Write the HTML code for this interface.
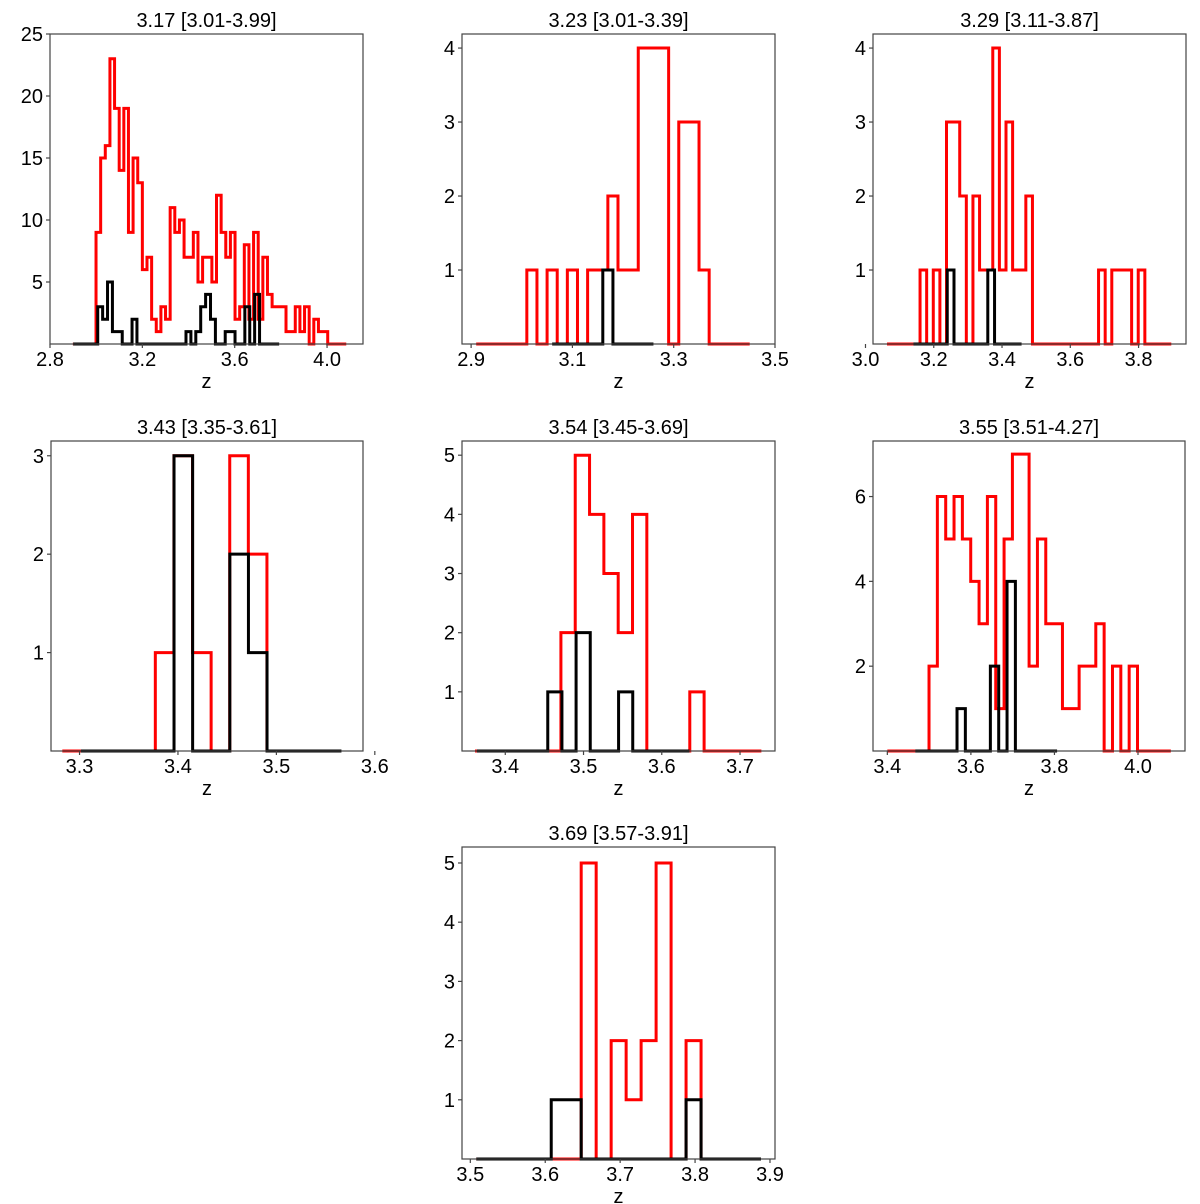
<!DOCTYPE html>
<html><head><meta charset="utf-8"><style>
html,body{margin:0;padding:0;background:#fff;}
svg{display:block;font-family:"Liberation Sans","DejaVu Sans",sans-serif;}
</style></head><body>
<svg id="fig" width="1200" height="1204" viewBox="0 0 1200 1204" xmlns="http://www.w3.org/2000/svg"></svg>
<script>
// ---- data arrays (counts per bin) ----
const p1Red = [0,0,0,0,0,9,15,16,23,19,14,19,9,15,13,6,7,2,1,3,2,11,9,10,7,7,9,5,7,7,5,12,9,7,9,2,3,8,2,9,2,7,4,3,3,3,1,1,3,1,3,0,2,1,1,0,0,0,0];
const p1Black = [0,0,0,0,0,3,2,5,1,1,0,0,2,0,0,0,0,0,0,0,0,0,0,1,0,1,3,4,2,0,0,1,1,0,0,3,0,4,0,0,0,0];
const p2Red = [0,0,0,0,0,1,0,1,0,1,0,1,1,2,1,1,4,4,4,0,3,3,1,0,0,0,0];
const p2Black = [0,0,0,0,0,1,0,0,0,0];
const p3Red = [0,0,0,0,0,1,0,1,0,3,3,2,0,2,1,1,4,1,3,1,1,2,0,0,0,0,0,0,0,0,0,0,1,0,1,1,1,0,1,0,0,0,0];
const p3Black = [0,0,0,0,0,1,0,0,0,0,0,1,0,0,0,0];
const p4Red = [0,0,0,0,0,1,3,1,0,3,2];
const p4Black = [0,0,0,0,0,3,0,0,2,1,0,0,0,0];
const p5Red = [0,0,0,0,0,0,2,5,4,3,2,4,0,0,0,1,0,0,0,0];
const p5Black = [0,0,0,0,0,1,0,2,0,0,1,0,0,0,0];
const p6Red = [0,0,0,0,0,2,6,5,6,5,4,3,6,1,5,7,7,2,5,3,3,1,1,2,2,3,0,2,0,2,0,0,0,0];
const p6Black = [0,0,0,0,0,1,0,0,0,2,0,4,0,0,0,0,0];
const p7Red = [0,0,0,0,0,0,0,5,0,2,1,2,5,0,2,0,0,0,0];
const p7Black = [0,0,0,0,0,1,1,0,0,0,0,0,0,0,1,0,0,0,0];
// bin starts / widths (z)
const redStart = [2.899,2.91,3.063,3.2825,3.3613,3.40,3.508];
const redWidth = [0.02007,0.02,0.01937,0.0189,0.0183,0.01996,0.02];
const blackStart = [2.9005,3.06,3.1405,3.3015,3.3638,3.467,3.508];
const blackWidth = [0.02124,0.02,0.0198,0.0189,0.0181,0.01996,0.02];
// titles & ticks
const titles = ["3.17 [3.01-3.99]","3.23 [3.01-3.39]","3.29 [3.11-3.87]","3.43 [3.35-3.61]","3.54 [3.45-3.69]","3.55 [3.51-4.27]","3.69 [3.57-3.91]"];
const xTicks = [["2.8","3.2","3.6","4.0"],["2.9","3.1","3.3","3.5"],["3.0","3.2","3.4","3.6","3.8"],["3.3","3.4","3.5","3.6"],["3.4","3.5","3.6","3.7"],["3.4","3.6","3.8","4.0"],["3.5","3.6","3.7","3.8","3.9"]];
const yTicks = [[5,10,15,20,25],[1,2,3,4],[1,2,3,4],[1,2,3],[1,2,3,4,5],[2,4,6],[1,2,3,4,5]];
const reds = [p1Red,p2Red,p3Red,p4Red,p5Red,p6Red,p7Red];
const blacks = [p1Black,p2Black,p3Black,p4Black,p5Black,p6Black,p7Black];

// ---- layout ----
const panels = [
 {x:50,y:34,w:313,h:310,xmin:2.8,xmax:4.1557,ymax:25.0},
 {x:462,y:34,w:313,h:310,xmin:2.882,xmax:3.5,ymax:4.19},
 {x:873,y:34,w:313,h:310,xmin:3.022,xmax:3.939,ymax:4.19},
 {x:51,y:441,w:312,h:310,xmin:3.271,xmax:3.588,ymax:3.15},
 {x:462,y:441,w:313,h:310,xmin:3.3447,xmax:3.7447,ymax:5.24},
 {x:873,y:441,w:312,h:310,xmin:3.3657,xmax:4.1125,ymax:7.31},
 {x:462,y:847,w:313,h:312,xmin:3.4889,xmax:3.9067,ymax:5.27}
];
const NS="http://www.w3.org/2000/svg";
const svg=document.getElementById('fig');
function mk(tag,attrs,parent){const e=document.createElementNS(NS,tag);for(const k in attrs)e.setAttribute(k,attrs[k]);(parent||svg).appendChild(e);return e;}

function stepPath(P,start,width,counts){
  const sx=v=>P.x+(v-P.xmin)/(P.xmax-P.xmin)*P.w;
  const sy=c=>P.y+P.h-c/P.ymax*P.h;
  let d="M"+sx(start).toFixed(2)+","+sy(0).toFixed(2);
  for(let i=0;i<counts.length;i++){
    const a=sx(start+i*width),b=sx(start+(i+1)*width),yy=sy(counts[i]);
    d+=" L"+a.toFixed(2)+","+yy.toFixed(2)+" L"+b.toFixed(2)+","+yy.toFixed(2);
  }
  d+=" L"+sx(start+counts.length*width).toFixed(2)+","+sy(0).toFixed(2);
  return d;
}

panels.forEach((P,i)=>{
  const g=mk('g',{});
  
  
  const sx=v=>P.x+(v-P.xmin)/(P.xmax-P.xmin)*P.w;
  const sy=c=>P.y+P.h-c/P.ymax*P.h;
  const t=mk('text',{x:P.x+P.w/2,y:P.y-7,'text-anchor':'middle','font-size':'20',fill:'#000'},g);
  t.textContent=titles[i];
  
  
  const r=mk('path',{d:stepPath(P,redStart[i],redWidth[i],reds[i]),fill:'none',stroke:'#ff0000','stroke-width':'3','stroke-linejoin':'miter'},g);
  
  
  const b=mk('path',{d:stepPath(P,blackStart[i],blackWidth[i],blacks[i]),fill:'none',stroke:'#000','stroke-width':'3','stroke-linejoin':'miter'},g);
  
  
  const fr=mk('rect',{x:P.x,y:P.y,width:P.w,height:P.h,fill:'none',stroke:'#444','stroke-width':'1.2'},g);
  
  
  xTicks[i].forEach(lab=>{
    const px=sx(parseFloat(lab));
    mk('line',{x1:px,x2:px,y1:P.y+P.h,y2:P.y+P.h+4,stroke:'#444','stroke-width':'1.2'},g);
    const tx=mk('text',{x:px,y:P.y+P.h+22,'text-anchor':'middle','font-size':'20',fill:'#000'},g);
    tx.textContent=lab;
    
    
  });
  yTicks[i].forEach(v=>{
    const py=sy(v);
    mk('line',{x1:P.x-4,x2:P.x,y1:py,y2:py,stroke:'#444','stroke-width':'1.2'},g);
    const ty=mk('text',{x:P.x-7,y:py+7,'text-anchor':'end','font-size':'20',fill:'#000'},g);
    ty.textContent=String(v);
    
    
  });
  const xl=mk('text',{x:P.x+P.w/2,y:P.y+P.h+44,'text-anchor':'middle','font-size':'20',fill:'#000'},g);
  xl.textContent='z';
  
  
});
</script>
</body></html>
